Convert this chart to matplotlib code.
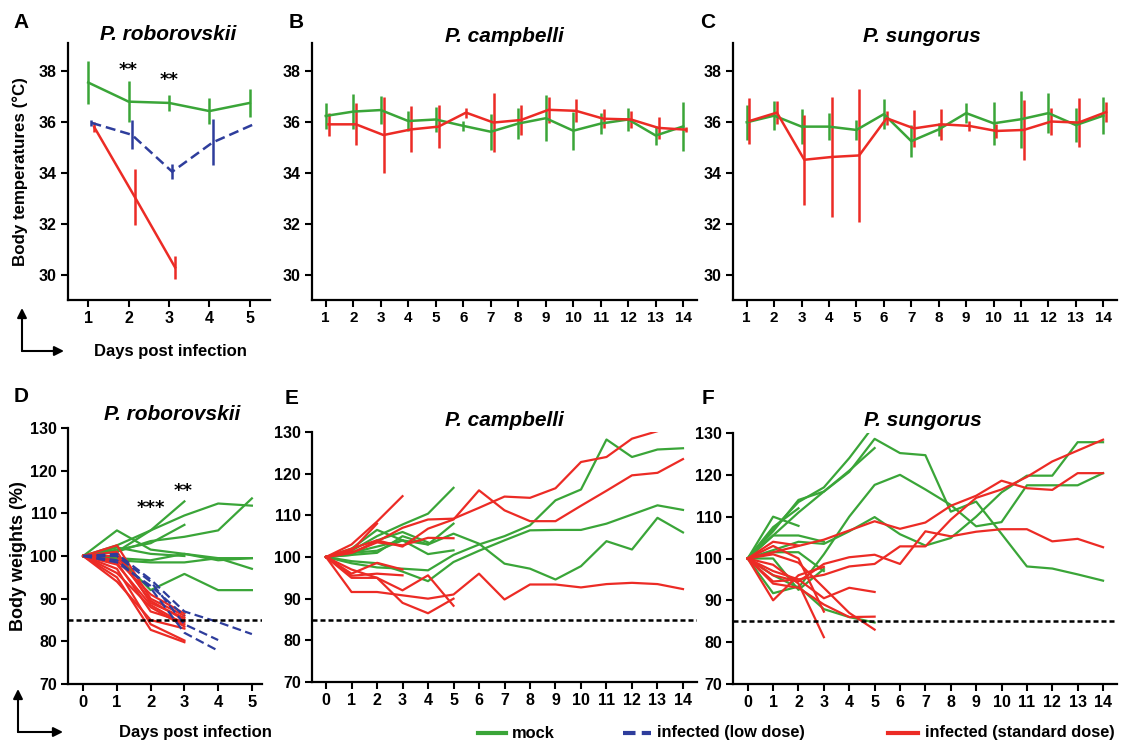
import matplotlib
matplotlib.use("Agg")
import matplotlib.pyplot as plt
from matplotlib.lines import Line2D
from matplotlib.patches import FancyArrowPatch

W, H = 1126, 743
GREEN = "#3aa538"
RED = "#ec2b25"
BLUE = "#2e3d9c"
FONT = ["Liberation Sans", "DejaVu Sans"]

# ---------------- body temperature (mean +/- sd) ----------------
days_a = [1, 2, 3, 4, 5]
a_mock = [37.55, 36.8, 36.75, 36.43, 36.75]
a_mock_sd = [0.85, 0.8, 0.33, 0.52, 0.55]
a_low = [35.97, 35.5, 34.05, 35.2, 35.9]
a_low_sd = [0.12, 0.57, 0.3, 0.9, 0.0]
days_a_std = [1, 2, 3]
a_std = [35.8, 33.07, 30.3]
a_std_sd = [0.2, 1.1, 0.45]

days_14 = list(range(1, 15))
b_mock = [36.24, 36.41, 36.47, 36.04, 36.1, 35.85, 35.62, 35.94, 36.15, 35.66, 35.94, 36.1, 35.47, 35.83]
b_mock_sd = [0.5, 0.7, 0.55, 0.4, 0.5, 0.2, 0.7, 0.6, 0.9, 0.75, 0.4, 0.45, 0.37, 0.97]
b_std = [35.91, 35.91, 35.49, 35.71, 35.82, 36.37, 35.98, 36.08, 36.48, 36.44, 36.13, 36.1, 35.77, 35.7]
b_std_sd = [0.45, 0.83, 1.5, 0.9, 0.85, 0.2, 1.15, 0.57, 0.5, 0.45, 0.37, 0.35, 0.43, 0.1]

c_mock = [35.99, 36.25, 35.82, 35.82, 35.69, 36.31, 35.25, 35.71, 36.35, 35.95, 36.11, 36.35, 35.88, 36.25]
c_mock_sd = [0.68, 0.58, 0.7, 0.52, 0.4, 0.6, 0.63, 0.25, 0.38, 0.85, 1.12, 0.78, 0.66, 0.73]
c_std = [36.04, 36.37, 34.52, 34.63, 34.69, 36.15, 35.75, 35.91, 35.85, 35.65, 35.69, 36.02, 35.98, 36.39]
c_std_sd = [0.9, 0.44, 1.77, 2.37, 2.6, 0.28, 0.72, 0.6, 0.2, 0.26, 1.16, 0.53, 0.95, 0.4]

# ---------------- body weights (individual animals, % of day 0) ----------------
d_mock = [
    [100, 102.5, 106, 109.5, 112.3, 111.8],
    [100, 101, 103.5, 104.5, 106, 113.5],
    [100, 99.5, 99, 100.5, 99, 99.5],
    [100, 106, 101.5, 100.5, 99.5, 97],
    [100, 100, 92, 95.8, 92, 92],
    [100, 99, 98.5, 98.5, 99.5, 99.5],
    [100, 101, 106, 112.8],
    [100, 101.5, 103, 107.3],
    [100, 102, 100.5, 100],
]
d_low = [
    [100, 100.5, 94.5, 87, 84.5, 81.7],
    [100, 100, 94, 84, 80.3],
    [100, 99, 92.5, 82, 77.8],
    [100, 98.5, 93, 86],
]
d_std = [
    [100, 94, 85, 83],
    [100, 95, 82.7, 79.8],
    [100, 97, 84, 80.2],
    [100, 98, 88.5, 84],
    [100, 102.5, 90, 86],
    [100, 101, 89, 85.5],
    [100, 99, 91, 86.5],
    [100, 98.5, 87, 84.5],
    [100, 96, 88, 83.5],
    [100, 100, 89.5, 85],
]

e_mock = [
    [100, 98.5, 97.5, 97.2, 96.8, 100.5, 103, 105, 107.6, 113.6, 116.2, 128.2, 124, 125.8, 126.1],
    [100, 99, 98.5, 96.5, 94.2, 98.8, 101.5, 104, 106.4, 106.5, 106.5, 108, 110.2, 112.4, 111.3],
    [100, 101, 101.5, 104, 103, 105.6, 103.2, 98.4, 97.2, 94.6, 97.8, 103.8, 101.8, 109.4, 105.9],
    [100, 101.5, 105, 107.8, 110.4, 116.6],
    [100, 100.5, 101, 105, 103, 108],
    [100, 102, 106.5, 104, 100.7, 101.6],
    [100, 100.5, 104, 106, 103.5],
    [100, 101, 102.5, 104],
]
e_std = [
    [100, 101, 103.7, 107, 109, 109.2, 111.8, 114.5, 114.2, 116.5, 122.8, 124, 128.4, 130.2],
    [100, 102, 104, 102.5, 106.8, 109, 116, 111.2, 108.6, 108.6, 112.3, 115.9, 119.6, 120.2, 123.5],
    [100, 91.6, 91.6, 90.8, 90, 91, 96, 89.8, 93.4, 93.4, 92.7, 93.5, 93.8, 93.5, 92.3],
    [100, 103, 108.5, 114.6],
    [100, 101.5, 108],
    [100, 101, 103.5, 102.8, 104.6, 104.5],
    [100, 97, 95, 89, 86.5, 90],
    [100, 95, 95, 92, 95.6, 88.3],
    [100, 95.5, 96, 95.6],
    [100, 96, 98.6, 97],
]

f_mock = [
    [100, 106.5, 114, 116, 120.7, 128.6, 125.2, 124.7, 111.2, 113.6, 105.9, 98.1, 97.6, 96.2, 94.7],
    [100, 96, 93, 101, 110, 117.6, 120, 116.5, 112.8, 107.7, 108.7, 117.5, 117.5, 117.5, 120.4],
    [100, 102, 104, 103.5, 106.5, 109.9, 105.8, 103.1, 104.9, 110, 115.8, 119.8, 119.8, 127.8, 127.8],
    [100, 107, 113.5, 117, 124, 132],
    [100, 105.5, 111, 116, 121, 126.4],
    [100, 107.5, 112],
    [100, 110, 107.8],
    [100, 105.5, 105.5, 104],
    [100, 101.5, 101.5, 97],
    [100, 91.7, 93.3, 87.9, 86, 84.7],
    [100, 100, 92.5, 97.5],
]
f_std = [
    [100, 101.5, 103, 104.5, 106.7, 108.9, 107.1, 108.6, 112.6, 115, 118.6, 116.8, 116.4, 120.4, 120.4],
    [100, 94.5, 95, 96.1, 98.1, 98.7, 102.9, 102.9, 109.3, 114.5, 116.5, 119.5, 123.2, 125.8, 128.4],
    [100, 96, 94.5, 98.7, 100.3, 100.9, 98.7, 106.5, 105.3, 106.4, 107, 107, 104.1, 104.7, 102.7],
    [100, 97, 95, 90.5, 93, 92],
    [100, 94, 93, 89, 86, 86.1],
    [100, 101, 99, 93, 87, 83],
    [100, 98.5, 94, 81.2],
    [100, 90, 96, 98],
    [100, 104, 103.1],
    [100, 103, 100, 87.3],
]

weight_cutoff = 85


def px_axes(fig, left, top, right, bottom):
    return fig.add_axes([left / W, 1 - bottom / H, (right - left) / W, (bottom - top) / H])


def style_axes(ax, xticks, yticks, xsize=11.5):
    for s in ("top", "right"):
        ax.spines[s].set_visible(False)
    for s in ("left", "bottom"):
        ax.spines[s].set_linewidth(1.6)
    ax.set_xticks(xticks)
    ax.set_yticks(yticks)
    ax.tick_params(direction="out", length=5, width=1.5, labelsize=11.5, pad=3)
    ax.tick_params(axis="x", labelsize=xsize)
    for lab in ax.get_xticklabels() + ax.get_yticklabels():
        lab.set_fontweight("bold")
        lab.set_family(FONT)


def temp_series(ax, days, mean, sd, color, dx=0.0, ls="-"):
    x = [d + dx for d in days]
    ax.errorbar(x, mean, yerr=sd, color=color, lw=1.8, ls=ls, elinewidth=1.8,
                capsize=0, dashes=(4, 2) if ls == "--" else (None, None))


def weight_traces(ax, traces, color, ls="-"):
    for tr in traces:
        line, = ax.plot(range(len(tr)), tr, color=color, lw=1.6, ls=ls)
        if ls == "--":
            line.set_dashes((4, 2))


def ftext(fig, x, y, s, **kw):
    kw.setdefault("family", FONT)
    fig.text(x / W, 1 - y / H, s, **kw)


def corner_arrows(fig, x0, y0, up, right):
    for x1, y1 in ((x0, up), (right, y0)):
        fig.add_artist(FancyArrowPatch((x0 / W, 1 - y0 / H), (x1 / W, 1 - y1 / H),
                                       transform=fig.transFigure, arrowstyle="-|>",
                                       mutation_scale=14, lw=1.5, color="black",
                                       shrinkA=0, shrinkB=0))


fig = plt.figure(figsize=(W / 100, H / 100), dpi=100)

# ---- A ----
ax = px_axes(fig, 68, 43, 270, 300)
temp_series(ax, days_a, a_mock, a_mock_sd, GREEN)
temp_series(ax, days_a, a_low, a_low_sd, BLUE, dx=0.08, ls="--")
temp_series(ax, days_a_std, a_std, a_std_sd, RED, dx=0.15)
ax.set_xlim(0.5, 5.5)
ax.set_ylim(29.02, 39.1)
style_axes(ax, days_a, [30, 32, 34, 36, 38])
ax.text(2, 38.05, "**", ha="center", va="center", fontsize=13, fontweight="bold")
ax.text(3, 37.65, "**", ha="center", va="center", fontsize=13, fontweight="bold")

# ---- B ----
ax = px_axes(fig, 312, 43, 697, 300)
temp_series(ax, days_14, b_mock, b_mock_sd, GREEN)
temp_series(ax, days_14, b_std, b_std_sd, RED, dx=0.1)
ax.set_xlim(0.5, 14.5)
ax.set_ylim(29.02, 39.1)
style_axes(ax, days_14, [30, 32, 34, 36, 38], xsize=11)

# ---- C ----
ax = px_axes(fig, 733, 43, 1117, 300)
temp_series(ax, days_14, c_mock, c_mock_sd, GREEN)
temp_series(ax, days_14, c_std, c_std_sd, RED, dx=0.1)
ax.set_xlim(0.5, 14.5)
ax.set_ylim(29.02, 39.1)
style_axes(ax, days_14, [30, 32, 34, 36, 38], xsize=11)

# ---- D ----
ax = px_axes(fig, 68, 428, 262, 684)
weight_traces(ax, d_mock, GREEN)
weight_traces(ax, d_std, RED)
weight_traces(ax, d_low, BLUE, ls="--")
ax.axhline(weight_cutoff, color="black", lw=1.8, dashes=(2, 1.2))
ax.set_xlim(-0.45, 5.3)
ax.set_ylim(70, 130)
style_axes(ax, range(6), range(70, 131, 10), xsize=12)
ax.text(2, 111.2, "***", ha="center", va="center", fontsize=13, fontweight="bold")
ax.text(2.95, 115.2, "**", ha="center", va="center", fontsize=13, fontweight="bold")

# ---- E ----
ax = px_axes(fig, 312, 432, 697, 682)
weight_traces(ax, e_mock, GREEN)
weight_traces(ax, e_std, RED)
ax.axhline(weight_cutoff, color="black", lw=1.8, dashes=(2, 1.2))
ax.set_xlim(-0.55, 14.55)
ax.set_ylim(70, 130)
style_axes(ax, range(15), range(70, 131, 10), xsize=11.5)

# ---- F ----
ax = px_axes(fig, 733, 433, 1117, 684)
weight_traces(ax, f_mock, GREEN)
weight_traces(ax, f_std, RED)
ax.axhline(weight_cutoff, color="black", lw=1.8, dashes=(2, 1.2))
ax.set_xlim(-0.58, 14.55)
ax.set_ylim(70, 130)
style_axes(ax, range(15), range(70, 131, 10), xsize=11.5)

# ---- panel letters and titles ----
for letter, x, y in (("A", 21, 22), ("B", 296, 22), ("C", 708, 22),
                     ("D", 21, 396), ("E", 292, 398), ("F", 708, 398)):
    ftext(fig, x, y, letter, ha="center", va="center", fontsize=15, fontweight="bold")

for title, x, y in (("P. roborovskii", 168, 35), ("P. campbelli", 504, 37),
                    ("P. sungorus", 922, 37), ("P. roborovskii", 172, 414),
                    ("P. campbelli", 504, 420), ("P. sungorus", 923, 421)):
    ftext(fig, x, y, title, ha="center", va="center", fontsize=15,
          fontweight="bold", style="italic")

ftext(fig, 20, 172, "Body temperatures (°C)", ha="center", va="center",
      rotation=90, fontsize=12.2, fontweight="bold")
ftext(fig, 19, 556, "Body weights (%)", ha="center", va="center",
      rotation=90, fontsize=13, fontweight="bold")

ftext(fig, 170, 352, "Days post infection", ha="center", va="center",
      fontsize=12, fontweight="bold")
ftext(fig, 195, 732, "Days post infection", ha="center", va="center",
      fontsize=12, fontweight="bold")
corner_arrows(fig, 22, 351, 308, 64)
corner_arrows(fig, 18, 732, 689, 63)

# ---- legend ----
legend_items = [("mock", GREEN, "-", 478, 506, 512),
                ("infected (low dose)", BLUE, "--", 623, 651, 657),
                ("infected (standard dose)", RED, "-", 888, 918, 925)]
for label, color, ls, x0, x1, xt in legend_items:
    ln = Line2D([x0 / W, x1 / W], [1 - 733 / H, 1 - 733 / H], color=color,
                lw=3, transform=fig.transFigure)
    if ls == "--":
        ln.set_dashes((3, 1.5))
    fig.add_artist(ln)
    ftext(fig, xt, 733, label, ha="left", va="center", fontsize=11.8,
          fontweight="bold")

fig.savefig("out.png", dpi=100, facecolor="white")
